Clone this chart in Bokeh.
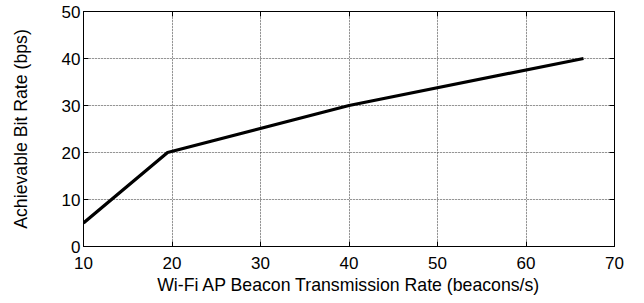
from bokeh.plotting import figure
from bokeh.models import LinearAxis, FixedTicker, CustomJSTickFormatter, Range1d, Grid
from bokeh.embed import file_html
from bokeh.resources import INLINE

# data
beacon_rate = [10, 19.5, 40, 66.5]
bit_rate = [5, 20, 30, 40]
x_ticks = [10, 20, 30, 40, 50, 60, 70]
y_ticks = [0, 10, 20, 30, 40, 50]
x_label = "Wi-Fi AP Beacon Transmission Rate (beacons/s)"
y_label = "Achievable Bit Rate (bps)"

FONT = "Liberation Sans"

p = figure(frame_width=531, frame_height=235,
           x_range=Range1d(10, 70), y_range=Range1d(0, 50),
           x_axis_location=None, y_axis_location=None,
           output_backend="svg", toolbar_location=None,
           min_border_left=83, min_border_right=30,
           min_border_top=11, min_border_bottom=57)
p.outline_line_color = "black"
p.outline_line_width = 1
p.background_fill_color = "white"
p.border_fill_color = "white"

def style(ax, ticks, labels=True):
    ax.ticker = FixedTicker(ticks=ticks)
    ax.major_tick_in = 5
    ax.major_tick_out = 0
    ax.minor_tick_in = 0
    ax.minor_tick_out = 0
    ax.axis_line_color = "black"
    ax.major_tick_line_color = "black"
    ax.major_label_text_font = FONT
    ax.major_label_text_font_size = "17px"
    ax.major_label_text_color = "black"
    ax.axis_label_text_font = FONT
    ax.axis_label_text_font_size = "17.7px"
    ax.axis_label_text_font_style = "normal"
    ax.axis_label_text_color = "black"
    if not labels:
        ax.formatter = CustomJSTickFormatter(code="return ''")
        ax.major_label_standoff = 0

xb = LinearAxis(axis_label=x_label)
style(xb, x_ticks)
xb.major_label_standoff = 10
xb.axis_label_standoff = 3
p.add_layout(xb, "below")

yl = LinearAxis(axis_label=y_label)
style(yl, y_ticks)
yl.major_label_standoff = 3
yl.axis_label_standoff = 28
p.add_layout(yl, "left")

xt = LinearAxis()
style(xt, x_ticks, labels=False)
p.add_layout(xt, "above")

yr = LinearAxis()
style(yr, y_ticks, labels=False)
p.add_layout(yr, "right")

gx = Grid(dimension=0, ticker=FixedTicker(ticks=x_ticks))
gy = Grid(dimension=1, ticker=FixedTicker(ticks=y_ticks))
for g in (gx, gy):
    g.grid_line_color = "#333333"
    g.grid_line_alpha = 0.9
    g.grid_line_dash = "1 2"
    g.grid_line_width = 1
    p.add_layout(g)

p.line(beacon_rate, bit_rate, line_color="black", line_width=3.2)

open("out.html", "w").write(file_html(p, INLINE))
